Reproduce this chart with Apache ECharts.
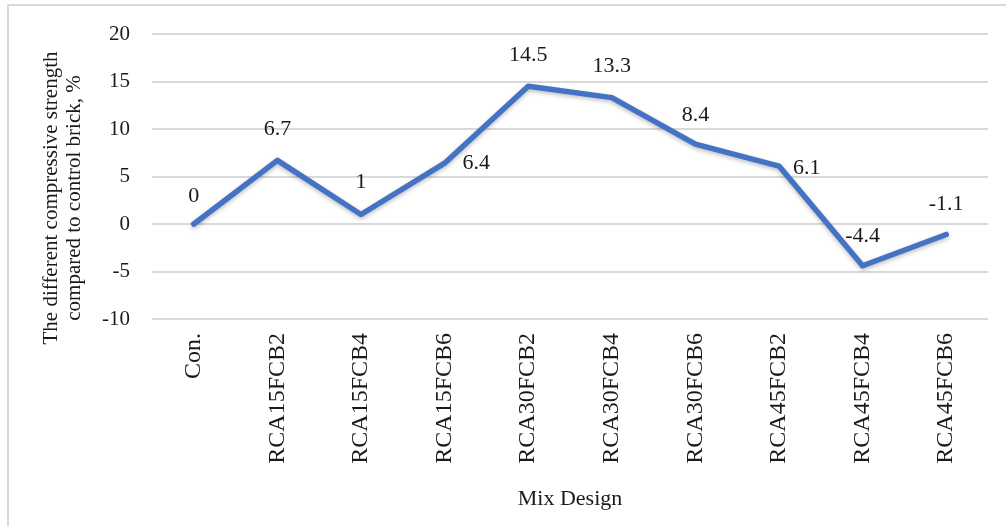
<!DOCTYPE html>
<html>
<head>
<meta charset="utf-8">
<script src="https://cdn.jsdelivr.net/npm/echarts@6/dist/echarts.min.js"></script>
<style>
html,body{margin:0;padding:0;background:#fff;}
#chart{width:1006px;height:526px;}
</style>
</head>
<body>
<div id="chart"></div>
<script>
const categories = ['Con.', 'RCA15FCB2', 'RCA15FCB4', 'RCA15FCB6', 'RCA30FCB2', 'RCA30FCB4', 'RCA30FCB6', 'RCA45FCB2', 'RCA45FCB4', 'RCA45FCB6'];
const values = [0, 6.7, 1, 6.4, 14.5, 13.3, 8.4, 6.1, -4.4, -1.1];
const yMin = -10;
const yMax = 20;
const yStep = 5;
const xTitle = 'Mix Design';
const yTitle = 'The different compressive strength\ncompared to control brick, %';

// label placement (style, not data)
const labelPlacement = [
  {position: 'top', distance: 16},
  {position: 'top', distance: 19},
  {position: 'top', distance: 20},
  {position: 'right', distance: 17},
  {position: 'top', distance: 19},
  {position: 'top', distance: 19},
  {position: 'top', distance: 17},
  {position: 'right', distance: 13, offset: [0, 2]},
  {position: 'top', distance: 18},
  {position: 'top', distance: 18}
];

const font = '"Liberation Serif", "Times New Roman", serif';
const txt = '#1a1a1a';

const seriesData = values.map((v, i) => ({
  value: v,
  label: Object.assign({}, labelPlacement[i])
}));

const chart = echarts.init(document.getElementById('chart'));
chart.setOption({
  animation: false,
  backgroundColor: '#fff',
  grid: {left: 152, right: 18, top: 34, bottom: 207, containLabel: false, outerBoundsMode: 'none'},
  xAxis: {
    type: 'category',
    data: categories,
    boundaryGap: true,
    axisLine: {show: false},
    axisTick: {show: false},
    splitLine: {show: false},
    axisLabel: {rotate: 90, margin: 14, fontFamily: font, fontSize: 24, color: txt, interval: 0}
  },
  yAxis: {
    type: 'value',
    min: yMin,
    max: yMax,
    interval: yStep,
    axisLine: {show: false},
    axisTick: {show: false},
    axisLabel: {margin: 22, fontFamily: font, fontSize: 21, color: txt},
    splitLine: {lineStyle: {color: '#d9d9d9', width: 2}}
  },
  series: [{
    type: 'line',
    data: seriesData,
    symbol: 'circle',
    symbolSize: 2,
    showSymbol: true,
    itemStyle: {color: '#4472C4'},
    lineStyle: {color: '#4472C4', width: 5.5, cap: 'round', join: 'round', shadowColor: 'rgba(0,0,0,0.25)', shadowBlur: 4, shadowOffsetY: 2},
    label: {show: true, fontFamily: font, fontSize: 22, color: txt},
    emphasis: {disabled: true}
  }],
  graphic: [
    {type: 'rect', silent: true, shape: {x: 8, y: 5, width: 1100, height: 600},
     style: {fill: 'none', stroke: '#d9d9d9', lineWidth: 2}},
    {type: 'text', x: 63, y: 198, rotation: Math.PI / 2, silent: true,
     style: {text: yTitle, fontFamily: font, fontSize: 21, lineHeight: 23, fill: txt, align: 'center', verticalAlign: 'middle'}},
    {type: 'text', x: 570, y: 499, silent: true,
     style: {text: xTitle, fontFamily: font, fontSize: 22, fill: txt, align: 'center', verticalAlign: 'middle'}}
  ]
});
</script>
</body>
</html>
